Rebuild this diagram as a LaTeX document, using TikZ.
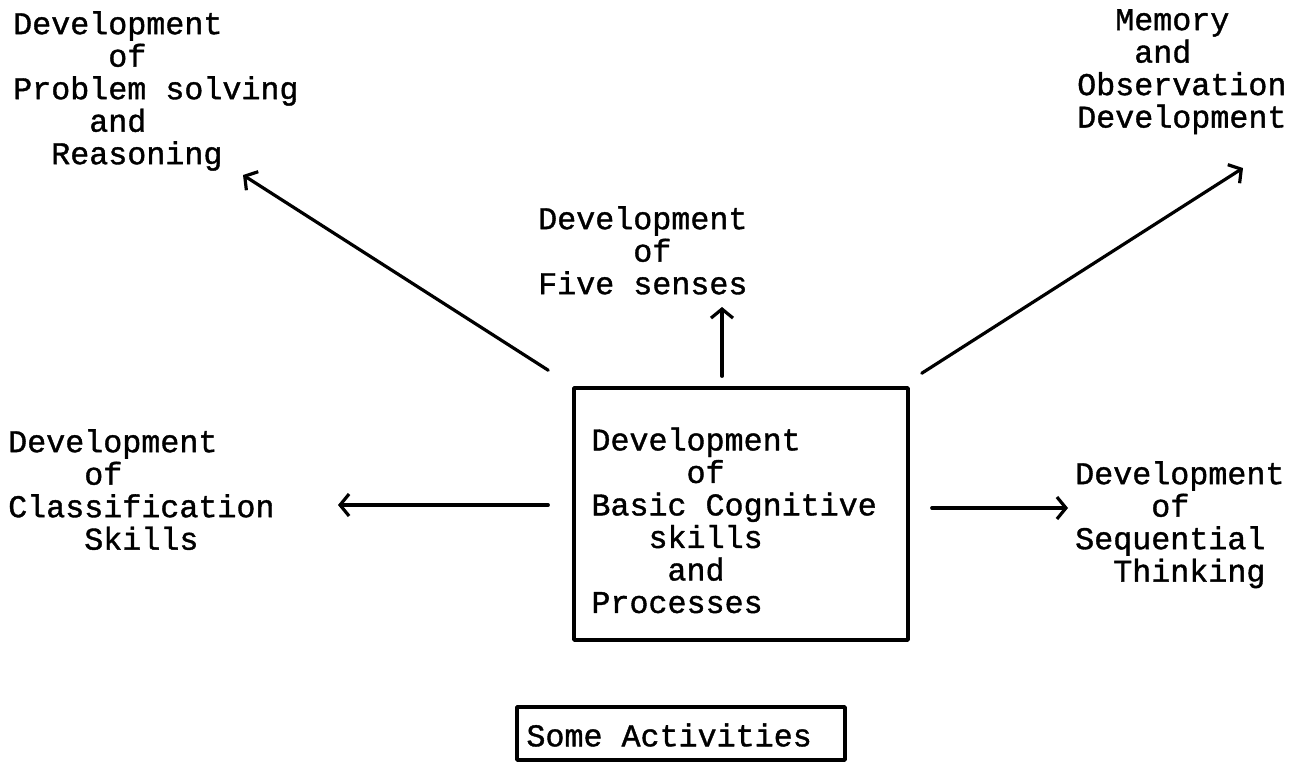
\documentclass[tikz,border=0pt]{standalone}
\usepackage{fontspec}
\setmainfont{Liberation Mono}[UprightFeatures={FakeBold=1.2}]
\usetikzlibrary{arrows.meta}

\newcommand\pad[1]{\hspace*{\fpeval{0.6*#1}em}}

\begin{document}
\begin{tikzpicture}[x=1pt, y=-1pt, line cap=round, line join=round,
	txt/.style={anchor=north west, align=left, inner sep=0pt, font=\fontsize{31.7}{32.5}\selectfont},
	frame/.style={draw, line width=3.5pt, inner sep=0pt},
	arr/.style={line width=3.2pt, -{Straight Barb[length=9pt, width=22pt]}}]
		
		\useasboundingbox (0,0) rectangle (1301,764);
		
		% Caja central
		\node[frame, minimum width=334pt, minimum height=252pt] (core) at (741,514) {};
		\node[txt] (coretext) at ([shift={(19,41)}]core.north west)
			{Development\\ \pad4 of\\ Basic Cognitive\\ \pad2 skills\\ \pad3 and\\ Processes};
		
		% Textos alrededor
		\node[txt] (probsolve) at (13,11) {Development\\ \pad4 of\\ Problem solving\\ \pad3 and\\ \pad1 Reasoning};
		\node[txt] (senses) at (538,206) {Development\\ \pad4 of\\ Five senses};
		\node[txt] (memory) at (1077,9) {\pad1 Memory\\ \pad2 and\\ Observation\\ Development};
		\node[txt] (classif) at (8,429) {Development\\ \pad3 of\\ Classification\\ \pad3 Skills};
		\node[txt] (sequential) at (1075,461) {Development\\ \pad3 of\\ Sequential\\ \pad1 Thinking};
		
		% Flechas
		\draw[arr] ([shift={(-24,-16)}]core.north west) -- ([shift={(230,164)}]probsolve.north west);
		\draw[arr] ([shift={(-19,-10)}]core.north) -- ([shift={(184,101)}]senses.north west);
		\draw[arr] ([shift={(12,-13)}]core.north east) -- ([shift={(166,159)}]memory.north west);
		\draw[arr] ([shift={(-24,-9)}]core.west) -- ([shift={(330,76)}]classif.north west);
		\draw[arr] ([shift={(22,-6)}]core.east) -- ([shift={(-7,47)}]sequential.north west);
		
		% Recuadro de abajo
		\node[frame, minimum width=328pt, minimum height=53pt] (activities) at (681,733.5) {};
		\node[txt, anchor=west] (acttext) at ([shift={(11,1.5)}]activities.west) {Some Activities};
		
	\end{tikzpicture}
\end{document}
